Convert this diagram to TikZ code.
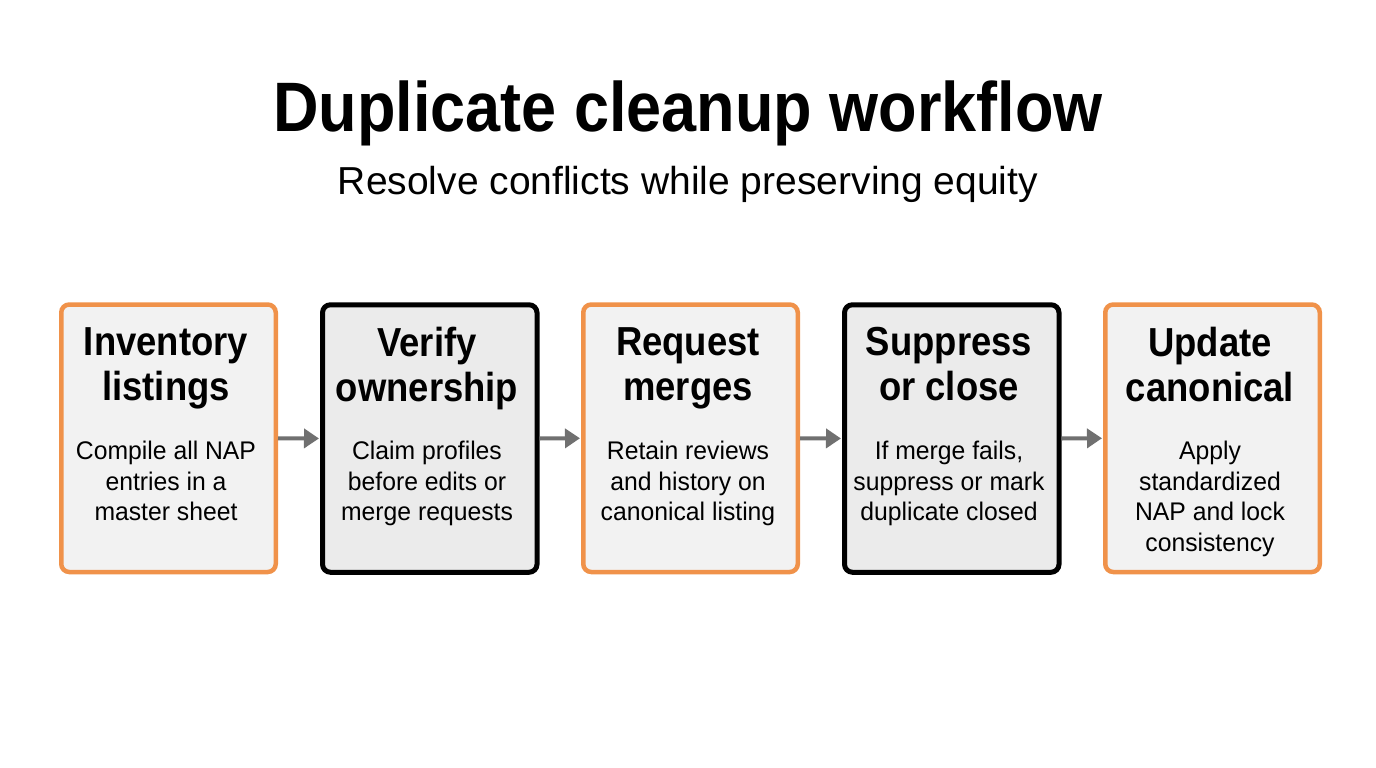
\documentclass[tikz,border=0pt]{standalone}
\usepackage{fontspec}
\setmainfont{Liberation Sans}
\usetikzlibrary{arrows.meta}
\definecolor{orangeb}{RGB}{240,146,74}
\definecolor{fillo}{RGB}{242,242,242}
\definecolor{fillk}{RGB}{235,235,235}
\definecolor{arrowg}{RGB}{112,112,112}
\tikzset{
  boxbase/.style={rounded corners=8pt, minimum width=214.5pt, minimum height=267.5pt, inner sep=0pt, anchor=north west},
  obox/.style={boxbase, draw=orangeb, line width=4.5pt, fill=fillo},
  kbox/.style={boxbase, draw=black, line width=5pt, fill=fillk},
  headtxt/.style={anchor=north, align=center, inner sep=0pt, xscale=0.9, font=\bfseries\fontsize{40.5}{45}\selectfont},
  bodytxt/.style={anchor=north, align=center, inner sep=0pt, xscale=0.97, font=\fontsize{25.5}{30.5}\selectfont},
  flow/.style={draw=arrowg, line width=4pt, -{Triangle[length=15pt,width=19pt]}, shorten >=1pt}
}
\begin{document}
\begin{tikzpicture}[x=1pt,y=-1pt]
\path[use as bounding box, fill=white] (0,0) rectangle (1376,768);
\node[anchor=base, inner sep=0pt, xscale=0.9, font=\bfseries\fontsize{70}{80}\selectfont] (title) at (688,131) {Duplicate cleanup workflow};
\node[anchor=base, inner sep=0pt, font=\fontsize{39}{44}\selectfont] (sub) at (688,194) {Resolve conflicts while preserving equity};

\node[obox] (b1) at (59,302.25) {};
\node[kbox] (b2) at (320,302.25) {};
\node[obox] (b3) at (581,302.25) {};
\node[kbox] (b4) at (842,302.25) {};
\node[obox] (b5) at (1103,302.25) {};

\node[headtxt] (h1) at (166,327) {Inventory\\listings};
\node[headtxt] (h2) at (427,327) {Verify\\ownership};
\node[headtxt] (h3) at (688,327) {Request\\merges};
\node[headtxt] (h4) at (949,327) {Suppress\\or close};
\node[headtxt] (h5) at (1210,327) {Update\\canonical};

\node[bodytxt] (t1) at (166,441) {Compile all NAP\\entries in a\\master sheet};
\node[bodytxt] (t2) at (427,441) {Claim profiles\\before edits or\\merge requests};
\node[bodytxt] (t3) at (688,441) {Retain reviews\\and history on\\canonical listing};
\node[bodytxt] (t4) at (949,441) {If merge fails,\\suppress or mark\\duplicate closed};
\node[bodytxt] (t5) at (1210,441) {Apply\\standardized\\NAP and lock\\consistency};

\draw[flow] (b1.east) -- (b2.west);
\draw[flow] (b2.east) -- (b3.west);
\draw[flow] (b3.east) -- (b4.west);
\draw[flow] (b4.east) -- (b5.west);
\end{tikzpicture}
\end{document}
